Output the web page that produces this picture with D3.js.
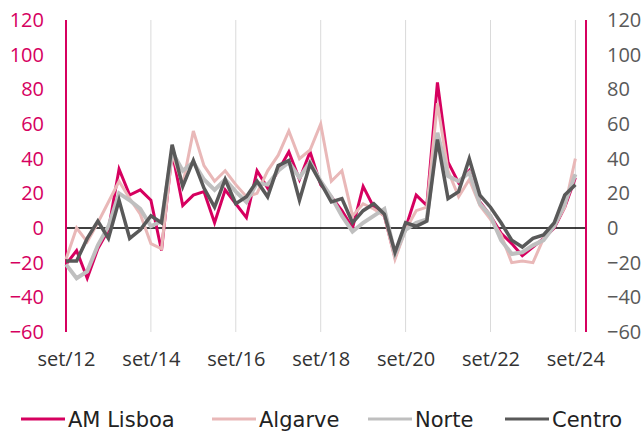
<!DOCTYPE html>
<html>
<head>
<meta charset="utf-8">
<script src="https://cdn.jsdelivr.net/npm/d3@7"></script>
<style>
  body { margin: 0; background: #fff; }
  text { font-family: "Open Sans", "DejaVu Sans", sans-serif; }
</style>
</head>
<body>
<div id="chart"></div>
<script>
// quarterly, set/12 .. set/24
var quarters = d3.range(49)
var tickLabels = ["set/12", "set/14", "set/16", "set/18", "set/20", "set/22", "set/24"]
var yTicks = [-60, -40, -20, 0, 20, 40, 60, 80, 100, 120]

var lisboa = [-21, -13, -29, -12, -1, 34, 19, 22, 16, -13, 44, 13, 19, 21, 3, 22, 14, 6, 33, 23,
  33, 44, 28, 44, 25, 18, 10, 0, 24, 12, 7, -17, 0, 19, 13, 84, 38, 26, 33, 15,
  7, -3, -9, -16, -11, -6, 0, 12, 29]
var algarve = [-18, 0, -8, 3, 15, 27, 17, 8, -9, -12, 43, 25, 56, 36, 27, 33, 25, 18, 20, 33,
  42, 56, 40, 45, 60, 27, 33, 7, 14, 11, 7, -18, -1, 10, 12, 72, 33, 18, 28, 13,
  5, -4, -20, -19, -20, -6, 1, 12, 40]
var norte = [-21, -29, -25, -10, 1, 20, 16, 11, 1, 4, 44, 33, 38, 28, 22, 28, 21, 15, 26, 25,
  33, 38, 29, 38, 27, 18, 7, -2, 3, 7, 11, -15, -1, 3, 5, 55, 30, 27, 32, 14,
  7, -7, -15, -14, -10, -7, 1, 14, 31]
var centro = [-19, -19, -6, 4, -6, 16, -6, -1, 7, 3, 48, 24, 39, 23, 12, 28, 14, 18, 27, 18,
  36, 39, 16, 37, 26, 15, 17, 3, 10, 14, 8, -14, 3, 1, 4, 51, 17, 21, 40, 19,
  12, 3, -7, -11, -6, -4, 3, 19, 25]

var seriesNames = ["AM Lisboa", "Algarve", "Norte", "Centro"]
var seriesData = [lisboa, algarve, norte, centro]
var colors = ["#d6005f", "#e9b8b8", "#bfbfbf", "#595959"]
var widths = [3, 3, 4, 3.5]

var W = 643, H = 432
var plotL = 66, plotR = 586, plotT = 20, plotB = 332

var svg = d3.select("#chart").append("svg").attr("width", W).attr("height", H)

var xs = d3.scaleLinear().domain([0, 49]).range([plotL, plotR])
var ys = d3.scaleLinear().domain([-60, 120]).range([plotB, plotT])

// vertical gridlines every 2 years
svg.append("g").selectAll("line")
  .data(tickLabels.slice(1))
  .enter().append("line")
  .attr("x1", (d, i) => xs((i + 1) * 8)).attr("x2", (d, i) => xs((i + 1) * 8))
  .attr("y1", plotT).attr("y2", plotB)
  .attr("stroke", "#dadada").attr("stroke-width", 1)

// zero line
svg.append("line")
  .attr("x1", plotL).attr("x2", plotR)
  .attr("y1", ys(0)).attr("y2", ys(0))
  .attr("stroke", "#000").attr("stroke-width", 1.5)

// axes lines
svg.append("line").attr("x1", plotL).attr("x2", plotL).attr("y1", plotT).attr("y2", plotB)
  .attr("stroke", "#d6005f").attr("stroke-width", 2)
svg.append("line").attr("x1", plotR).attr("x2", plotR).attr("y1", plotT).attr("y2", plotB)
  .attr("stroke", "#d6005f").attr("stroke-width", 2)

var leftAxis = svg.append("g").attr("transform", "translate(" + plotL + ",0)")
  .call(d3.axisLeft(ys).tickValues(yTicks).tickSize(0).tickPadding(22))
leftAxis.select(".domain").remove()
leftAxis.selectAll("text").attr("fill", "#d6005f").style("font-size", "20px")
  .style("font-family", "'Open Sans', sans-serif")

var rightAxis = svg.append("g").attr("transform", "translate(" + plotR + ",0)")
  .call(d3.axisRight(ys).tickValues(yTicks).tickSize(0).tickPadding(21))
rightAxis.select(".domain").remove()
rightAxis.selectAll("text").attr("fill", "#595959").style("font-size", "20px")
  .style("font-family", "'Open Sans', sans-serif")

var bottomAxis = svg.append("g").attr("transform", "translate(0," + plotB + ")")
  .call(d3.axisBottom(xs).tickValues(d3.range(0, 49, 8)).tickFormat((d, i) => tickLabels[i])
    .tickSize(0).tickPadding(20))
bottomAxis.select(".domain").remove()
bottomAxis.selectAll("text").attr("fill", "#333").style("font-size", "20px")
  .style("font-family", "'Open Sans', sans-serif")

var line = d3.line().x((d, i) => xs(quarters[i])).y(d => ys(d))

svg.append("g").selectAll("path")
  .data(seriesData)
  .enter().append("path")
  .attr("d", d => line(d))
  .attr("fill", "none")
  .attr("stroke", (d, i) => colors[i])
  .attr("stroke-width", (d, i) => widths[i])
  .attr("stroke-linejoin", "miter")

// legend
var legendX = [21, 212, 368, 505]
var legend = svg.append("g").attr("transform", "translate(0,419)")
var items = legend.selectAll("g").data(seriesNames).enter().append("g")
  .attr("transform", (d, i) => "translate(" + legendX[i] + ",0)")
items.append("line").attr("x1", 0).attr("x2", 44).attr("y1", 0).attr("y2", 0)
  .attr("stroke", (d, i) => colors[i]).attr("stroke-width", 3)
items.append("text").attr("x", 47).attr("y", 0).attr("dy", "0.36em")
  .style("font-size", "21px").style("font-family", "'DejaVu Sans', sans-serif")
  .attr("fill", "#222").text(d => d)
</script>
</body>
</html>
